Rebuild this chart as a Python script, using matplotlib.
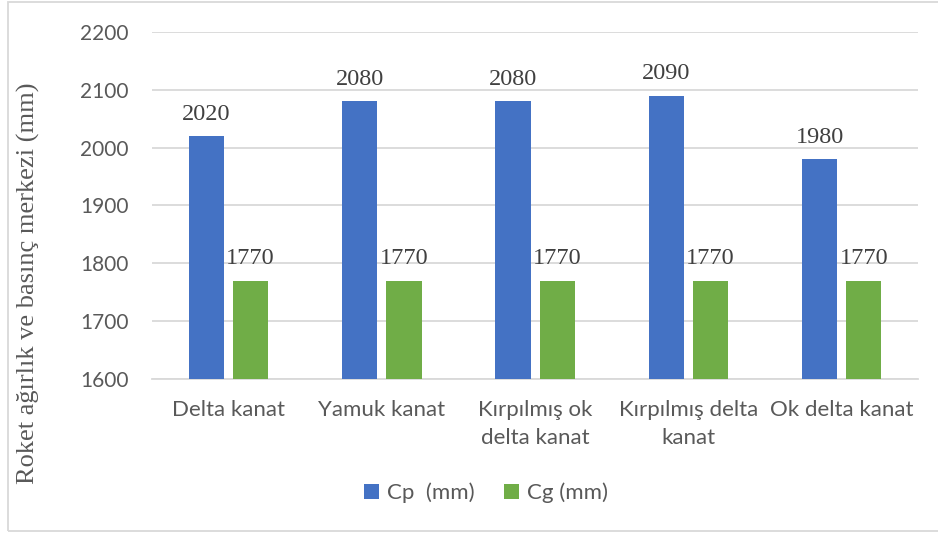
import numpy as np
import matplotlib.pyplot as plt
from matplotlib.patches import Rectangle

categories = ['Delta kanat', 'Yamuk kanat', 'Kırpılmış ok\ndelta kanat',
              'Kırpılmış delta\nkanat', 'Ok delta kanat']
cp_values = [2020, 2080, 2080, 2090, 1980]
cg_values = [1770, 1770, 1770, 1770, 1770]
series_names = ['Cp  (mm)', 'Cg (mm)']

blue = '#4472C4'
green = '#70AD47'
gray_text = '#595959'
sans = ['Lato', 'DejaVu Sans']
serif = ['Liberation Serif', 'DejaVu Serif']

fig = plt.figure(figsize=(9.38, 5.33), dpi=100)
ax = fig.add_axes([0.162, 0.289, 0.817, 0.651])

x = np.arange(len(categories))
w = 0.23
off = 0.144
b1 = ax.bar(x - off, cp_values, w, color=blue, label=series_names[0], zorder=3)
b2 = ax.bar(x + off, cg_values, w, color=green, label=series_names[1], zorder=3)

# value labels above each bar
for bars, vals in ((b1, cp_values), (b2, cg_values)):
    for rect, v in zip(bars, vals):
        ax.text(rect.get_x() + rect.get_width() / 2, v + 20, str(v),
                ha='center', va='bottom', fontsize=17.5, family=serif,
                color='#404040', zorder=4)

ax.set_xlim(-0.5, len(categories) - 0.5)
ax.set_ylim(1600, 2200)
ax.set_yticks(np.arange(1600, 2201, 100))
ax.yaxis.grid(True, color='#D9D9D9', linewidth=1.3, zorder=0)
ax.set_axisbelow(True)
for s in ['top', 'right', 'left']:
    ax.spines[s].set_visible(False)
ax.spines['bottom'].set_color('#D9D9D9')
ax.spines['bottom'].set_linewidth(1.3)
ax.tick_params(axis='both', length=0, colors=gray_text)
ax.tick_params(axis='y', pad=17, labelsize=15)
ax.tick_params(axis='x', pad=15, labelsize=16)
ax.set_xticks(x)
ax.set_xticklabels(categories, family=sans, linespacing=1.5)
for lab in ax.get_yticklabels():
    lab.set_family(sans)

fig.text(0.03, 0.469, 'Roket ağırlık ve basınç merkezi (mm)', rotation=90,
         ha='center', va='center', fontsize=19, family=serif, color=gray_text)

leg = fig.legend(loc='center', bbox_to_anchor=(0.518, 0.075), ncol=2,
                 frameon=False, fontsize=16, handlelength=0.7, handleheight=0.7,
                 columnspacing=1.3, handletextpad=0.35)
for t in leg.get_texts():
    t.set_color(gray_text)
    t.set_family(sans)

# chart-area border
fig.patches.append(Rectangle((8 / 938, 2 / 533), 1.0, 529 / 533,
                             transform=fig.transFigure, fill=False,
                             edgecolor='#D9D9D9', linewidth=1.3))

fig.savefig('out.png', dpi=100)
